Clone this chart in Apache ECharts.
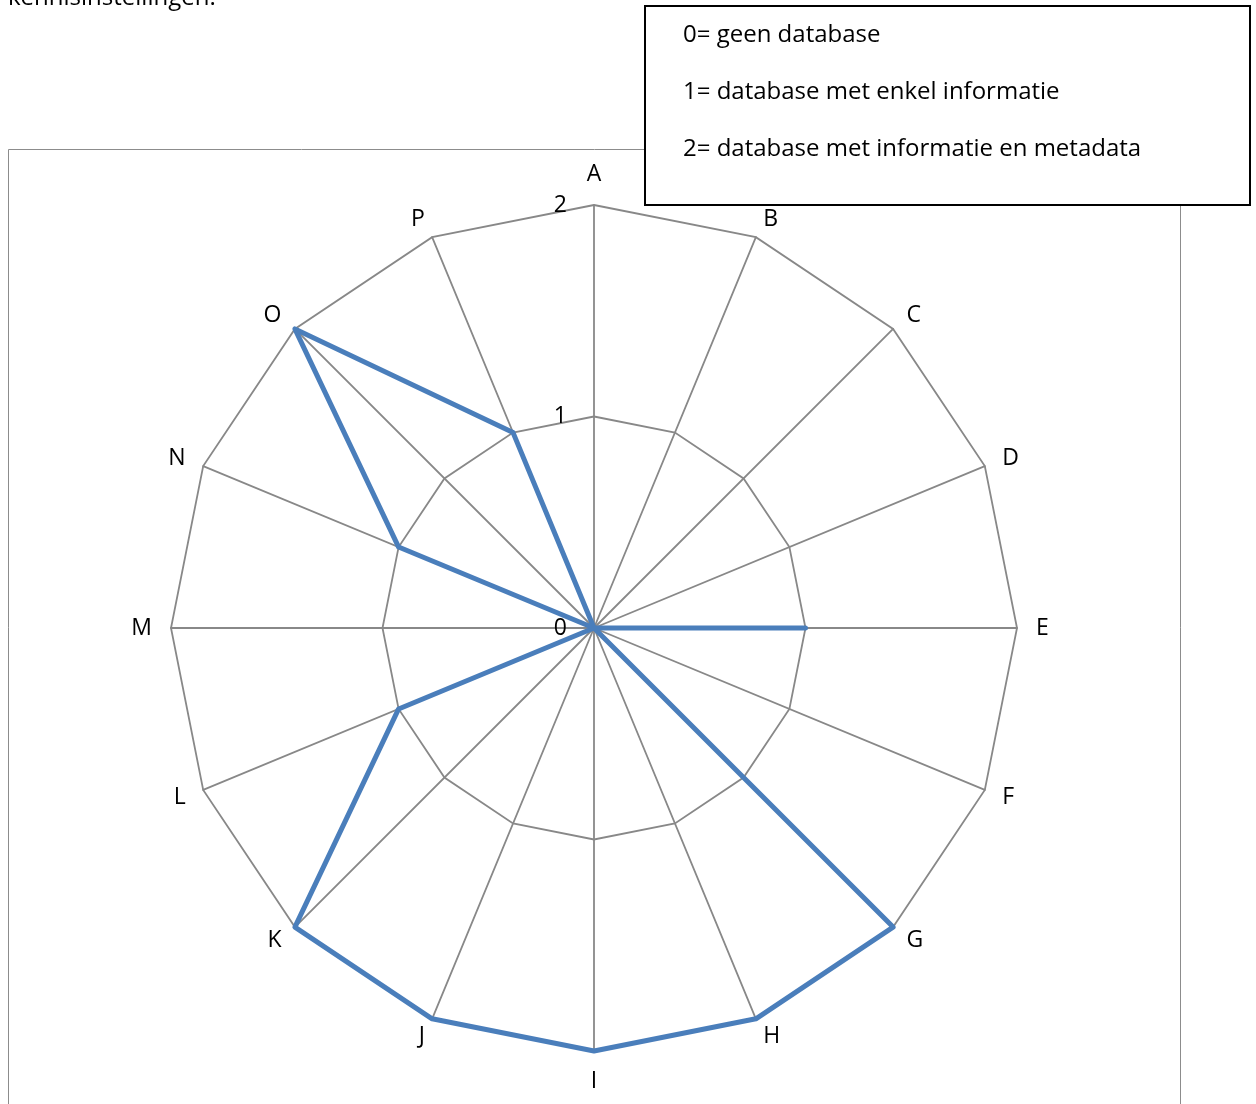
<!DOCTYPE html>
<html>
<head>
<meta charset="utf-8">
<script src="https://cdn.jsdelivr.net/npm/echarts@6/dist/echarts.min.js"></script>
<style>
  html, body { margin: 0; padding: 0; background: #fff; }
  #chart { width: 1256px; height: 1104px; }
</style>
</head>
<body>
<div id="chart"></div>
<script>
// categories, clockwise from the top
const categories = ['A', 'B', 'C', 'D', 'E', 'F', 'G', 'H', 'I', 'J', 'K', 'L', 'M', 'N', 'O', 'P'];
// 0 = geen database, 1 = enkel informatie, 2 = informatie en metadata
const scores = [0, 0, 0, 0, 1, 0, 2, 2, 2, 2, 2, 1, 0, 1, 2, 1];
const legendLines = [
  '0= geen database',
  '1= database met enkel informatie',
  '2= database met informatie en metadata'
];
const maxScore = 2;

const font = '"Open Sans", Lato, sans-serif';
const gridGrey = '#888888';
const lineBlue = '#4A7EBB';

// echarts lays radar indicators out counter-clockwise, so reverse after A
const order = [0].concat(categories.map((c, i) => i).slice(1).reverse());
const indicator = order.map((i, k) => {
  const ind = { name: categories[i], min: 0, max: maxScore };
  if (k === 0) {
    ind.axisLabel = {
      show: true, color: '#000', fontFamily: font, fontSize: 23, margin: 27
    };
  }
  return ind;
});
const values = order.map(i => scores[i]);

const chart = echarts.init(document.getElementById('chart'));

chart.setOption({
  animation: false,
  graphic: [
    {
      type: 'rect', z: 0,
      shape: { x: 8.5, y: 149.5, width: 1172, height: 1000 },
      style: { fill: '#fff', stroke: '#8c8c8c', lineWidth: 1 }
    },
    {
      type: 'text', x: 8, y: -2,
      style: {
        text: 'kennisinstellingen.', font: '24px ' + font, fill: '#000',
        verticalAlign: 'middle'
      }
    },
    {
      type: 'group', z: 100,
      children: [
        {
          type: 'rect',
          shape: { x: 645, y: 6, width: 605, height: 199 },
          style: { fill: '#fff', stroke: '#000', lineWidth: 2 }
        }
      ].concat(legendLines.map((t, i) => ({
        type: 'text',
        x: 683, y: 35 + i * 57,
        style: {
          text: t, font: '24px ' + font, fill: '#000', verticalAlign: 'middle'
        }
      })))
    }
  ],
  radar: {
    center: [594, 628],
    radius: 423,
    shape: 'polygon',
    splitNumber: 2,
    indicator: indicator,
    nameGap: 19,
    axisName: { color: '#000', fontFamily: font, fontSize: 23 },
    axisLine: { lineStyle: { color: gridGrey, width: 1.8 } },
    splitLine: { lineStyle: { color: gridGrey, width: 1.8 } },
    splitArea: { show: false },
    axisLabel: { show: false },
    axisTick: { show: false }
  },
  series: [{
    type: 'radar',
    symbol: 'none',
    lineStyle: { color: lineBlue, width: 5, join: 'round' },
    data: [{ value: values }]
  }]
});
</script>
</body>
</html>
